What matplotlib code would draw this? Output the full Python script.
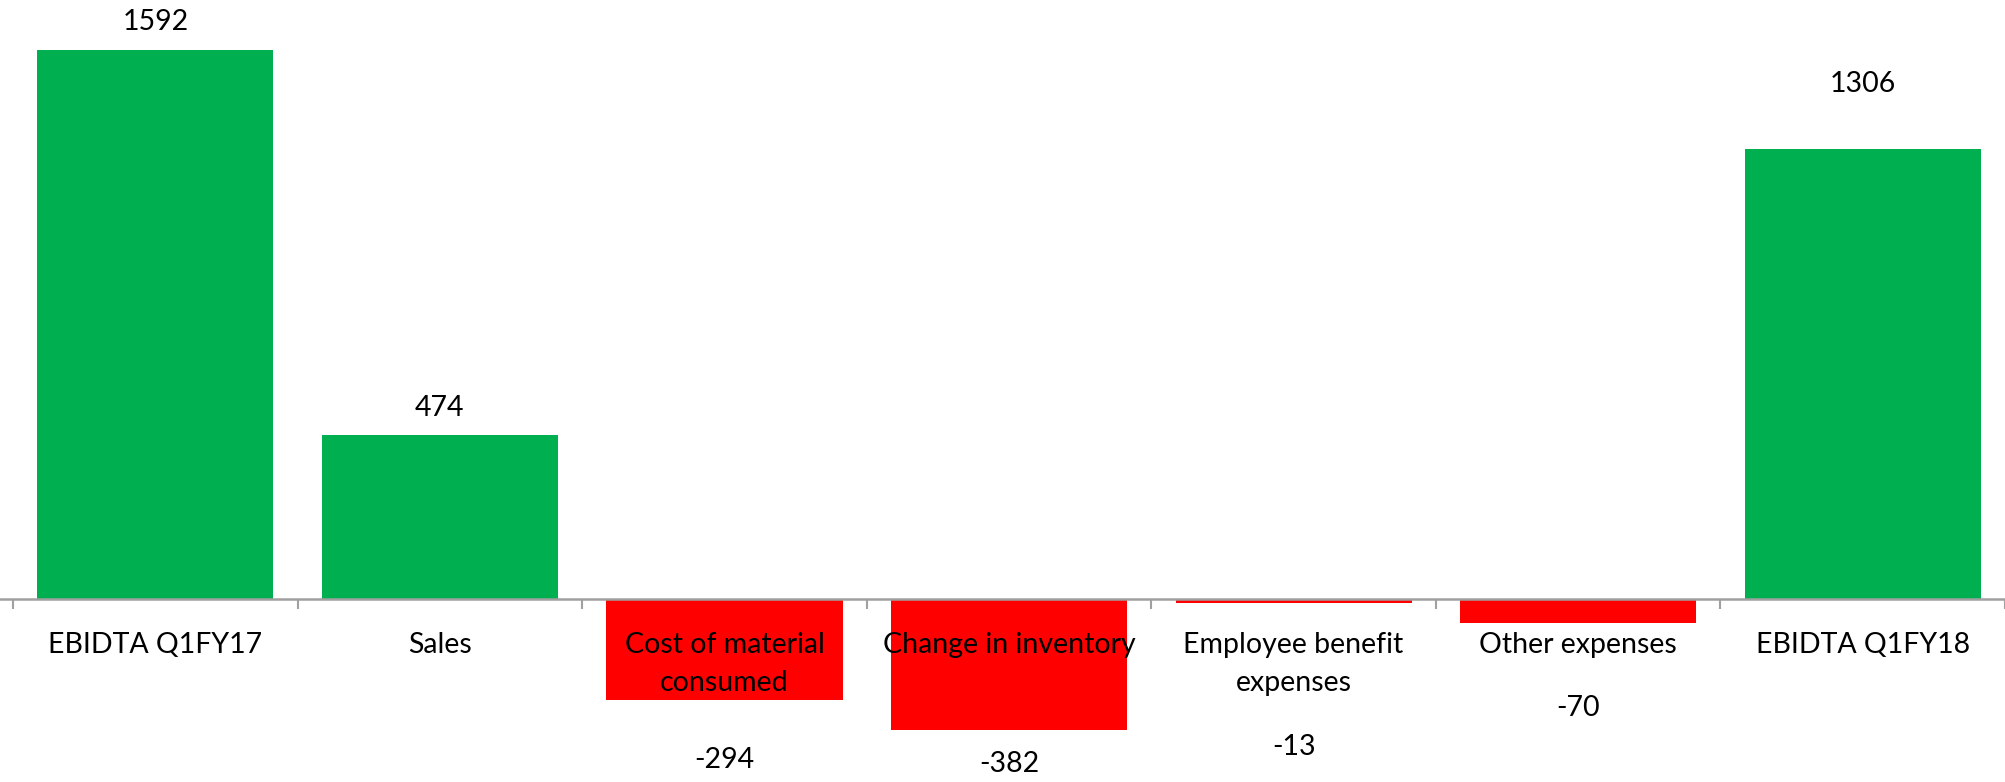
import matplotlib
matplotlib.use("Agg")
import matplotlib.pyplot as plt
import numpy as np

categories = ["EBIDTA Q1FY17", "Sales", "Cost of material\nconsumed", "Change in inventory",
              "Employee benefit\nexpenses", "Other expenses", "EBIDTA Q1FY18"]
values = [1592, 474, -294, -382, -13, -70, 1306]
# label offset from bar end, in pixels (manual placement in the original)
label_offsets_px = [29, 28, 59, 33, 143, 84, 66]

GREEN = "#00B050"
RED = "#FF0000"
AXIS_GRAY = "#A0A0A0"

plt.rcParams['font.family'] = ['Lato', 'DejaVu Sans']

fig = plt.figure(figsize=(20.05, 7.829), dpi=100)
ax = fig.add_axes([0, 0, 1, 1])

x = np.arange(len(categories))
colors = [GREEN if v >= 0 else RED for v in values]
ax.bar(x, values, width=0.83, color=colors, zorder=1)

ax.set_xlim(-0.546, 6.5)
ax.set_ylim(-532, 1740)

for s in ['top', 'right', 'left']:
    ax.spines[s].set_visible(False)
ax.spines['bottom'].set_position(('data', 0))
ax.spines['bottom'].set_color(AXIS_GRAY)
ax.spines['bottom'].set_linewidth(1.8)
ax.set_yticks([])

ax.set_xticks(x)
ax.set_xticklabels(categories, fontsize=20.5, linespacing=1.6)
ax.tick_params(axis='x', which='major', length=0, pad=23)
ax.set_xticks(np.arange(len(categories) + 1) - 0.5, minor=True)
ax.tick_params(axis='x', which='minor', length=7, width=1.5, color=AXIS_GRAY)

for xi, v, off in zip(x, values, label_offsets_px):
    ax.annotate(f"{v}", xy=(xi, v), xytext=(0, off * 0.72 if v >= 0 else -off * 0.72),
                textcoords='offset points', ha='center', va='center', fontsize=20.5)

fig.savefig("out.png", dpi=100)
